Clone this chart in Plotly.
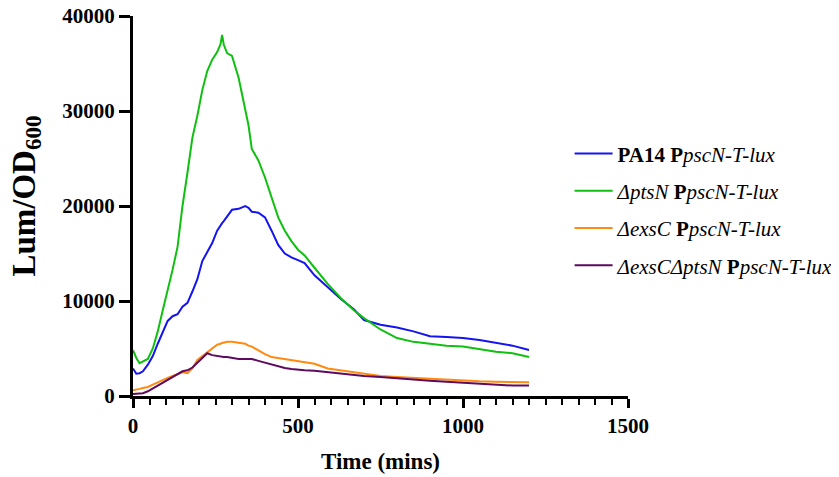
import plotly.graph_objects as go

time_min = [0, 10, 20, 30, 45, 60, 75, 90, 105, 120, 135, 150, 165, 180, 195, 210, 225, 240, 255, 265,
            270, 275, 285, 300, 320, 340, 350, 360, 380, 400, 420, 440, 460, 480, 500, 520, 550, 590,
            630, 670, 700, 750, 800, 850, 900, 950, 1000, 1050, 1100, 1150, 1200]

pa14 = [2900, 2350, 2400, 2600, 3300, 4200, 5500, 6800, 7900, 8400, 8600, 9400, 9800, 11000, 12300,
        14200, 15200, 16100, 17400, 18000, 18200, 18400, 18900, 19600, 19700, 20000, 19800, 19400,
        19300, 18800, 17400, 15900, 15000, 14600, 14300, 14000, 12700, 11400, 10200, 9100, 8000,
        7500, 7200, 6800, 6300, 6200, 6100, 5900, 5600, 5300, 4850]

ptsN = [4840, 4000, 3450, 3600, 3900, 5000, 6800, 9000, 11000, 13300, 15700, 20000, 23500, 27200,
        29500, 32200, 34200, 35400, 36200, 37000, 38000, 37000, 36100, 35800, 33500, 30300, 28500,
        26000, 24800, 23000, 20800, 18800, 17400, 16300, 15400, 14800, 13500, 11800, 10300, 9000,
        8200, 7000, 6100, 5700, 5500, 5300, 5200, 4950, 4650, 4500, 4100]

exsC = [600, 650, 750, 850, 950, 1200, 1450, 1700, 1900, 2100, 2300, 2500, 2400, 2900, 3800, 4200,
        4600, 5000, 5400, 5500, 5600, 5600, 5700, 5700, 5600, 5500, 5300, 5200, 4800, 4400, 4100,
        4000, 3900, 3800, 3700, 3600, 3400, 2900, 2700, 2500, 2350, 2100, 2000, 1900, 1800, 1700,
        1600, 1550, 1500, 1450, 1450]

exsC_ptsN = [200, 220, 250, 300, 500, 800, 1100, 1400, 1700, 2000, 2300, 2600, 2700, 3000, 3500, 4000,
             4500, 4300, 4200, 4150, 4100, 4100, 4100, 4000, 3900, 3900, 3900, 3900, 3700, 3500, 3300,
             3100, 2950, 2850, 2750, 2700, 2650, 2500, 2300, 2200, 2100, 2000, 1850, 1700, 1600, 1500,
             1400, 1300, 1200, 1100, 1100]

series_names = [
    "<b>PA14 P</b><i>pscN-T-lux</i>",
    "<i>ΔptsN</i> <b>P</b><i>pscN-T-lux</i>",
    "<i>ΔexsC</i> <b>P</b><i>pscN-T-lux</i>",
    "<i>ΔexsCΔptsN</i> <b>P</b><i>pscN-T-lux</i>",
]
series_values = [pa14, ptsN, exsC, exsC_ptsN]
series_colors = ["#1414F0", "#10C010", "#FF8A10", "#5E0A5E"]

x_ticks = [0, 500, 1000, 1500]
y_ticks = [0, 10000, 20000, 30000, 40000]

fig = go.Figure()
for i, (name, vals, col) in enumerate(zip(series_names, series_values, series_colors)):
    fig.add_trace(go.Scatter(x=time_min, y=vals, mode="lines", name=name,
                             line=dict(color=col, width=2), legendgroup=f"g{i}"))

font_family = "Liberation Serif"
fig.update_layout(
    width=839, height=477,
    margin=dict(l=125, r=213, t=8, b=89),
    plot_bgcolor="white", paper_bgcolor="white",
    font=dict(family=font_family, color="black"),
    legend=dict(x=0.882, y=0.49, xanchor="left", yanchor="middle",
                font=dict(family=font_family, size=21, color="black"),
                tracegroupgap=7, itemwidth=38, bgcolor="rgba(0,0,0,0)"),
    xaxis=dict(range=[0, 1500], tickvals=x_ticks, ticktext=[str(v) for v in x_ticks],
               automargin=False, ticklabeloverflow="allow",
               showline=True, linecolor="black", linewidth=3, showgrid=False, zeroline=False,
               ticks="outside", ticklen=9, tickwidth=3, tickcolor="black",
               tickfont=dict(family=font_family, size=21, color="black", weight="bold"),
               minor=dict(dtick=50, ticks="outside", ticklen=6, tickwidth=2, tickcolor="black"),
               title=dict(text="<b>Time (mins)</b>", font=dict(family=font_family, size=23), standoff=16)),
    yaxis=dict(range=[0, 40000], tickvals=y_ticks, ticktext=[str(v) for v in y_ticks],
               automargin=False, ticklabeloverflow="allow",
               showline=True, linecolor="black", linewidth=3, showgrid=False, zeroline=False,
               ticks="outside", ticklen=11, tickwidth=3, tickcolor="black",
               tickfont=dict(family=font_family, size=21, color="black", weight="bold")),
    annotations=[dict(text="<b>Lum/OD<sub>600</sub></b>", textangle=-90,
                      xref="paper", yref="paper", x=(26 - 133) / 493, y=(396 - 196) / 380,
                      xanchor="center", yanchor="middle", showarrow=False,
                      font=dict(family=font_family, size=33, color="black"))],
)

fig.write_html("out.html")
